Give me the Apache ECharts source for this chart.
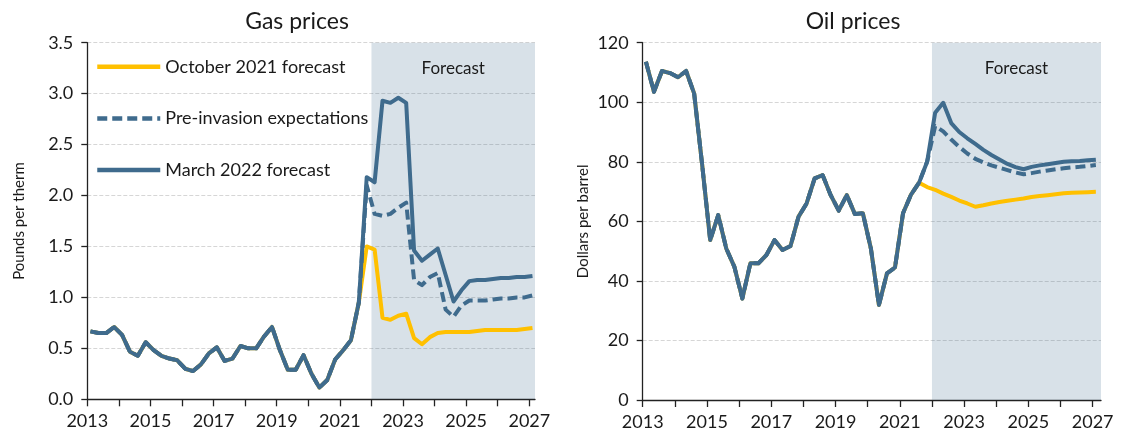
<!DOCTYPE html>
<html>
<head>
<meta charset="utf-8">
<script src="https://cdn.jsdelivr.net/npm/echarts@6/dist/echarts.min.js"></script>
<style>
html,body{margin:0;padding:0;background:#fff;}
#c{width:1128px;height:434px;}
</style>
</head>
<body>
<div id="c"></div>
<script>
// ---------- data ----------
const startYear = 2013;
const nQuarters = 57;            // 2013 Q1 .. 2027 Q1
const forecastStart = 2022;
const seriesNames = ['October 2021 forecast', 'Pre-invasion expectations', 'March 2022 forecast'];
const yearTicks = [2013,2014,2015,2016,2017,2018,2019,2020,2021,2022,2023,2024,2025,2026,2027];
const yearLabels = [2013,2015,2017,2019,2021,2023,2025,2027];
const gasTicks = [0,0.5,1,1.5,2,2.5,3,3.5];
const oilTicks = [0,20,40,60,80,100,120];

// Gas prices (pounds per therm), quarterly outturns 2013 Q1 - 2021 Q3
const gasHistory = [0.667,0.65,0.65,0.71,0.633,0.467,0.427,0.56,0.483,0.427,0.40,0.383,0.30,0.277,0.343,0.45,
  0.51,0.377,0.40,0.523,0.50,0.50,0.617,0.71,0.483,0.29,0.29,0.433,0.25,0.115,0.19,0.39,0.48,0.58,0.95];
// forecasts 2021 Q4 - 2027 Q1
const gasOct21 = [1.50,1.47,0.80,0.78,0.82,0.84,0.60,0.54,0.61,0.65,0.66,0.66,0.66,0.66,0.67,0.68,0.68,0.68,0.68,0.68,0.69,0.70];
const gasPreInv = [2.10,1.82,1.80,1.82,1.88,1.93,1.17,1.12,1.20,1.24,0.88,0.81,0.92,0.97,0.97,0.97,0.98,0.99,0.99,1.00,1.00,1.02];
const gasMar22 = [2.18,2.13,2.93,2.91,2.96,2.91,1.46,1.36,1.42,1.48,1.22,0.96,1.07,1.16,1.17,1.17,1.18,1.19,1.19,1.20,1.20,1.21];

// Oil prices (dollars per barrel)
const oilHistory = [113.6,103.5,110.5,109.8,108.4,110.5,103,79,53.7,62.1,50.9,44.8,34.1,45.9,45.9,48.7,53.7,50.4,
  51.7,61.6,66.0,74.4,75.5,68.8,63.6,68.8,62.5,62.7,50.9,31.9,42.5,44.5,62.7,69,73];
const oilOct21 = [71.5,70.6,69.3,68.2,67.0,66.0,64.9,65.4,66.0,66.5,66.9,67.3,67.7,68.2,68.5,68.8,69.1,69.4,69.6,69.7,69.8,69.9];
const oilPreInv = [80,92,90.2,87.5,85,82.8,81,79.8,78.8,78,77.2,76.4,75.8,76.2,76.7,77.1,77.5,77.8,78.1,78.3,78.6,78.9];
const oilMar22 = [80,96.5,99.8,93,90,87.9,86,84,82.3,80.8,79.3,78.2,77.5,78.3,78.8,79.2,79.6,80.0,80.2,80.3,80.5,80.7];

// ---------- build ----------
const quarters = [];
for (let i = 0; i < nQuarters; i++) quarters.push(startYear + Math.floor(i / 4) + ' Q' + (i % 4 + 1));
const qPos = q => { const p = q.split(' Q'); return +p[0] + (+p[1] - 1) * 0.25 + 0.1; };
const pts = (hist, fc) => hist.concat(fc).map((v, i) => [qPos(quarters[i]), v]);

const FONT = 'Lato';
const BLUE = '#3F6B8D';
const GOLD = '#FFC000';
const TXT = '#1a1a1a';

function xAx(grid, max) {
  return {
    type: 'value', gridIndex: grid, min: startYear, max: max,
    splitLine: {show: false},
    axisLine: {onZero: false, lineStyle: {color: '#222', width: 1.3}},
    axisTick: {customValues: yearTicks, length: 7, lineStyle: {color: '#222', width: 1.3}},
    axisLabel: {customValues: yearLabels, formatter: v => String(v), fontFamily: FONT, fontSize: 18, color: TXT, margin: 13}
  };
}
function yAx(grid, max, interval, name, gap, fmt) {
  return {
    type: 'value', gridIndex: grid, min: 0, max: max, interval: interval,
    name: name, nameLocation: 'middle', nameGap: gap,
    nameTextStyle: {fontFamily: FONT, fontSize: 15, color: TXT},
    axisLine: {show: true, lineStyle: {color: '#222', width: 1.3}},
    axisTick: {show: true, length: 6, lineStyle: {color: '#222', width: 1.3}},
    axisLabel: {fontFamily: FONT, fontSize: 18, color: TXT, margin: 14, formatter: fmt},
    splitLine: {show: true, lineStyle: {color: '#d6d6d6', type: [4, 2], width: 1}}
  };
}
function shade(xi, yi, max) {
  return {
    type: 'line', xAxisIndex: xi, yAxisIndex: yi, data: [], z: 1, silent: true,
    markArea: {
      silent: true,
      itemStyle: {color: 'rgba(62,106,140,0.2)'},
      label: {show: true, position: 'insideTop', distance: 17, color: TXT, fontFamily: FONT, fontSize: 17},
      data: [[{xAxis: forecastStart, name: 'Forecast'}, {xAxis: max}]]
    }
  };
}
function line(name, xi, data, color, dashed) {
  return {
    name: name, type: 'line', xAxisIndex: xi, yAxisIndex: xi, data: data,
    symbol: 'none', animation: false,
    lineStyle: {color: color, width: 4, type: dashed ? [10, 5] : 'solid', join: 'round'},
    itemStyle: {color: color}, z: 3
  };
}

const gasMax = 2027.18, oilMax = 2027.26;
const option = {
  animation: false,
  textStyle: {fontFamily: FONT},
  grid: [
    {left: 87.3, right: 1128 - 535, top: 42.7, bottom: 434 - 399.3},
    {left: 642.7, right: 1128 - 1101, top: 42.7, bottom: 434 - 400}
  ],
  xAxis: [xAx(0, gasMax), xAx(1, oilMax)],
  yAxis: [
    yAx(0, 3.5, 0.5, 'Pounds per therm', 61, v => v.toFixed(1)),
    yAx(1, 120, 20, 'Dollars per barrel', 52, v => String(v))
  ],
  legend: {
    orient: 'vertical', left: 95, top: 56.7, padding: 0,
    itemWidth: 63, itemHeight: 14, itemGap: 31.7,
    data: seriesNames, selectedMode: false,
    itemStyle: {opacity: 0},
    lineStyle: {width: 4.5},
    textStyle: {fontFamily: FONT, fontSize: 18, color: TXT, lineHeight: 20}
  },
  graphic: [
    {type: 'text', x: 297, y: 22, style: {text: 'Gas prices', font: '23px Lato', fill: TXT, align: 'center', verticalAlign: 'middle'}},
    {type: 'text', x: 853, y: 22, style: {text: 'Oil prices', font: '23px Lato', fill: TXT, align: 'center', verticalAlign: 'middle'}}
  ],
  series: [
    shade(0, 0, gasMax),
    line(seriesNames[0], 0, pts(gasHistory, gasOct21), GOLD, false),
    line(seriesNames[1], 0, pts(gasHistory, gasPreInv), BLUE, true),
    line(seriesNames[2], 0, pts(gasHistory, gasMar22), BLUE, false),
    shade(1, 1, oilMax),
    line(seriesNames[0], 1, pts(oilHistory, oilOct21), GOLD, false),
    line(seriesNames[1], 1, pts(oilHistory, oilPreInv), BLUE, true),
    line(seriesNames[2], 1, pts(oilHistory, oilMar22), BLUE, false)
  ]
};
const chart = echarts.init(document.getElementById('c'), null, {renderer: 'canvas'});
chart.setOption(option);
</script>
</body>
</html>
